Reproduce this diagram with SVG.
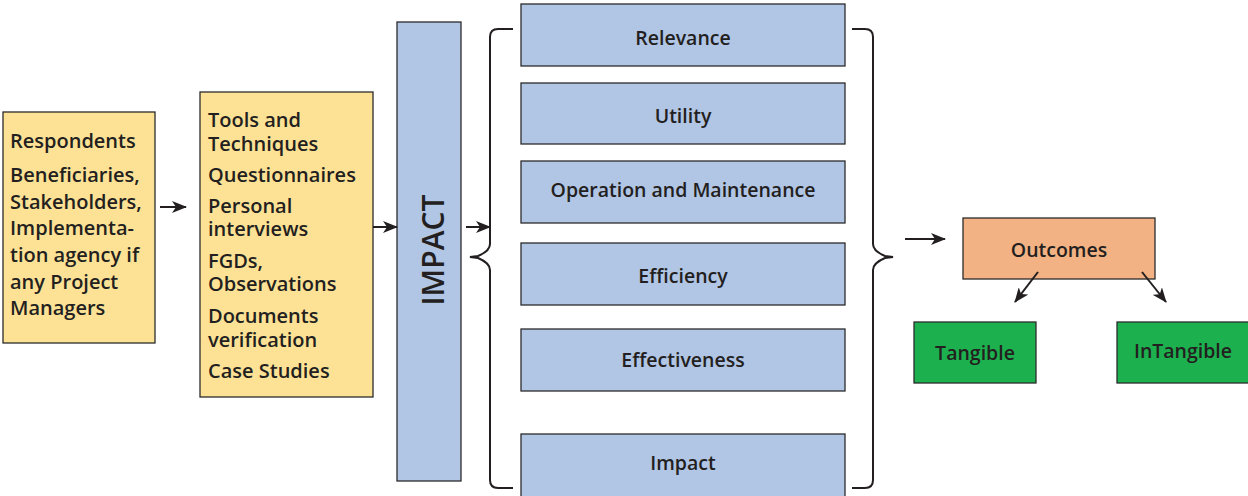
<svg xmlns="http://www.w3.org/2000/svg" width="1248" height="496" viewBox="0 0 1248 496">
  <style>
    .box { stroke: #2b2b2b; stroke-width: 1.3; }
    .yellow { fill: #fde296; }
    .blue { fill: #b1c5e5; }
    .orange { fill: #f3b283; }
    .green { fill: #1db04f; }
    text { font-family: "Open Sans", Lato, sans-serif; font-weight: 600; fill: #231f20; font-variant-ligatures: none; }
    .lbl { font-size: 19.5px; text-anchor: middle; }
    .list { font-size: 20px; }
    .conn { stroke: #231f20; stroke-width: 2; fill: none; }
    .brace { stroke: #231f20; stroke-width: 2; fill: none; }
  </style>
  <defs>
    <marker id="arrow" viewBox="0 0 15 12" refX="14" refY="6" markerWidth="15" markerHeight="12" markerUnits="userSpaceOnUse" orient="auto">
      <path d="M0,0 L15,6 L0,12 L4,6 z" fill="#231f20"/>
    </marker>
  </defs>

  <g id="respondents">
    <rect class="box yellow" x="3" y="112" width="152" height="231"/>
    <text class="list" x="10" y="148">Respondents</text>
    <text class="list" x="10" y="182">Beneficiaries,</text>
    <text class="list" x="10" y="209">Stakeholders,</text>
    <text class="list" x="10" y="235">Implementa-</text>
    <text class="list" x="10" y="262">tion agency if</text>
    <text class="list" x="10" y="289">any Project</text>
    <text class="list" x="10" y="315">Managers</text>
  </g>

  <g id="tools">
    <rect class="box yellow" x="200" y="92" width="173" height="305"/>
    <text class="list" x="208" y="127">Tools and</text>
    <text class="list" x="208" y="151">Techniques</text>
    <text class="list" x="208" y="182">Questionnaires</text>
    <text class="list" x="208" y="213">Personal</text>
    <text class="list" x="208" y="236">interviews</text>
    <text class="list" x="208" y="268">FGDs,</text>
    <text class="list" x="208" y="291">Observations</text>
    <text class="list" x="208" y="323">Documents</text>
    <text class="list" x="208" y="347">verification</text>
    <text class="list" x="208" y="378">Case Studies</text>
  </g>

  <g id="impact-bar">
    <rect class="box blue" x="397" y="22" width="64" height="459"/>
    <text x="444" y="250" font-size="30" font-weight="700" text-anchor="middle" transform="rotate(-90 444 250)">IMPACT</text>
  </g>

  <g id="relevance">
    <rect class="box blue" x="521" y="4" width="324" height="62"/>
    <text class="lbl" x="683" y="45">Relevance</text>
  </g>
  <g id="utility">
    <rect class="box blue" x="521" y="83" width="324" height="61"/>
    <text class="lbl" x="683" y="123">Utility</text>
  </g>
  <g id="operation">
    <rect class="box blue" x="521" y="161" width="324" height="62"/>
    <text class="lbl" x="683" y="197">Operation and Maintenance</text>
  </g>
  <g id="efficiency">
    <rect class="box blue" x="521" y="243" width="324" height="62"/>
    <text class="lbl" x="683" y="283">Efficiency</text>
  </g>
  <g id="effectiveness">
    <rect class="box blue" x="521" y="329" width="324" height="62"/>
    <text class="lbl" x="683" y="367">Effectiveness</text>
  </g>
  <g id="impact">
    <rect class="box blue" x="521" y="434" width="324" height="64"/>
    <text class="lbl" x="683" y="470">Impact</text>
  </g>

  <g id="outcomes">
    <rect class="box orange" x="963" y="218" width="192" height="61"/>
    <text class="lbl" x="1059" y="257">Outcomes</text>
  </g>
  <g id="tangible">
    <rect class="box green" x="914" y="322" width="122" height="61"/>
    <text class="lbl" x="975" y="360">Tangible</text>
  </g>
  <g id="intangible">
    <rect class="box green" x="1117" y="322" width="133" height="61"/>
    <text class="lbl" x="1183" y="358">InTangible</text>
  </g>

  <g id="connectors">
    <line class="conn" x1="160" y1="207" x2="186" y2="207" marker-end="url(#arrow)"/>
    <line class="conn" x1="373" y1="227" x2="397" y2="227" marker-end="url(#arrow)"/>
    <line class="conn" x1="466" y1="227" x2="490" y2="227" marker-end="url(#arrow)"/>
    <line class="conn" x1="905" y1="239" x2="945" y2="239" marker-end="url(#arrow)"/>
    <line class="conn" x1="1038" y1="272" x2="1015" y2="302" marker-end="url(#arrow)"/>
    <line class="conn" x1="1142" y1="272" x2="1166" y2="302" marker-end="url(#arrow)"/>
    <!-- left brace -->
    <path class="brace" d="M513,29 L498,29 Q490,29 490,37 L490,244 Q490,251 478,256 L470,257 L478,258 Q490,263 490,270 L490,480 Q490,488 498,488 L513,488"/>
    <!-- right brace -->
    <path class="brace" d="M852,29 L865,29 Q873,29 873,37 L873,244 Q873,251 885,256 L893,257 L885,258 Q873,263 873,270 L873,480 Q873,488 865,488 L852,488"/>
  </g>
</svg>
